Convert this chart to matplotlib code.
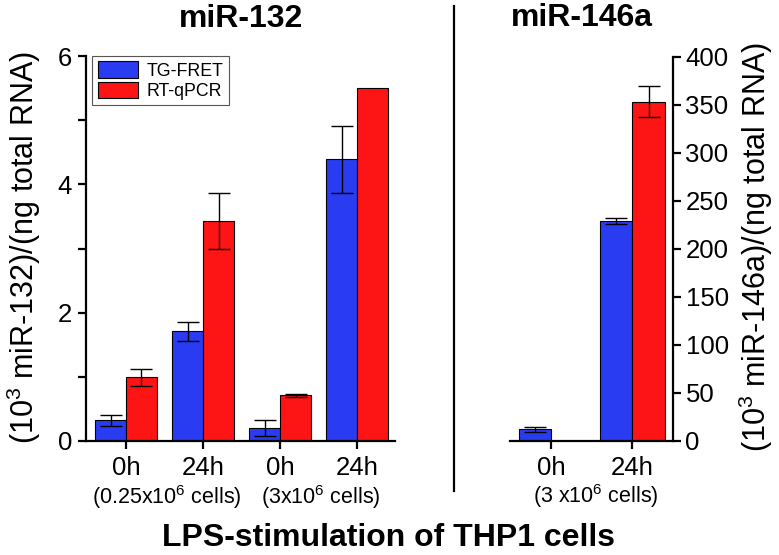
import numpy as np
import matplotlib
matplotlib.use('Agg')
from matplotlib import pyplot as plt
from matplotlib import transforms

plt.rcParams['font.family'] = ['Liberation Sans', 'DejaVu Sans']
plt.rcParams['mathtext.fontset'] = 'custom'
plt.rcParams['mathtext.rm'] = 'Liberation Sans'
plt.rcParams['mathtext.it'] = 'Liberation Sans:italic'
plt.rcParams['mathtext.bf'] = 'Liberation Sans:bold'

# miR-132 panel
groups_132 = ['0h', '24h', '0h', '24h']
fret_132 = [0.32, 1.71, 0.20, 4.39]
fret_132_err = [0.08, 0.15, 0.12, 0.52]
pcr_132 = [0.99, 3.43, 0.71, 5.50]
pcr_132_err = [0.13, 0.43, 0.02, np.nan]

# miR-146a panel
groups_146 = ['0h', '24h']
fret_146 = [12.0, 229.0]
fret_146_err = [2.5, 3.0]
pcr_146 = [0.0, 353.0]
pcr_146_err = [np.nan, 16.0]

cell_labels_132 = ['(0.25x10$^{6}$ cells)', '(3x10$^{6}$ cells)']
cell_labels_146 = ['(3 x10$^{6}$ cells)']

blue = '#2a3cf2'
red = '#fd1414'
width = 0.4


def draw_bars(ax, fret, fret_err, pcr, pcr_err):
    x = np.arange(len(fret))
    ax.bar(x - width / 2, fret, width, color=blue, edgecolor='black', linewidth=0.8, label='TG-FRET')
    ax.bar(x + width / 2, pcr, width, color=red, edgecolor='black', linewidth=0.8, label='RT-qPCR')
    ax.errorbar(x - width / 2, fret, yerr=fret_err, fmt='none', ecolor='black', elinewidth=1, capsize=8, capthick=1)
    ax.errorbar(x + width / 2, pcr, yerr=pcr_err, fmt='none', ecolor='black', elinewidth=1, capsize=8, capthick=1)
    return x


def style_axis(ax):
    for s in ax.spines.values():
        s.set_linewidth(1.6)
    ax.tick_params(which='both', width=1.6, length=6, labelsize=18.5, direction='out')


fig = plt.figure(figsize=(7.79, 5.55), dpi=100)

# left panel
ax1 = fig.add_axes([86 / 779, 1 - 441 / 555, 309 / 779, 385 / 555])
x1 = draw_bars(ax1, fret_132, fret_132_err, pcr_132, pcr_132_err)
ax1.set_xlim(-0.52, 3.49)
ax1.set_ylim(0, 6)
ax1.set_xticks(x1)
ax1.set_xticklabels(groups_132)
ax1.set_yticks([0, 2, 4, 6])
ax1.set_yticks([1, 3, 5], minor=True)
ax1.spines['top'].set_visible(False)
ax1.spines['right'].set_visible(False)
style_axis(ax1)
ax1.tick_params(axis='y', pad=4)
ax1.tick_params(axis='x', pad=5)
leg = ax1.legend(loc='upper left', bbox_to_anchor=(0.02, 1.0), borderaxespad=0, fontsize=12.8,
                 handlelength=2.25, handleheight=1.05, labelspacing=0.12, handletextpad=0.5,
                 borderpad=0.3, fancybox=False, framealpha=1)
leg.get_frame().set_edgecolor('#555555')
leg.get_frame().set_linewidth(0.8)

tr1 = transforms.blended_transform_factory(ax1.transData, ax1.transAxes)
ax1.text(0.53, -0.145, cell_labels_132[0], transform=tr1, ha='center', va='center', fontsize=15.5)
ax1.text(2.53, -0.145, cell_labels_132[1], transform=tr1, ha='center', va='center', fontsize=15.5)

# right panel
ax2 = fig.add_axes([510 / 779, 1 - 440.7 / 555, 163 / 779, 384 / 555])
x2 = draw_bars(ax2, fret_146, fret_146_err, pcr_146, pcr_146_err)
ax2.set_xlim(-0.506, 1.50)
ax2.set_ylim(0, 400)
ax2.set_xticks(x2)
ax2.set_xticklabels(groups_146)
ax2.set_yticks(np.arange(0, 401, 50))
ax2.yaxis.tick_right()
ax2.spines['top'].set_visible(False)
ax2.spines['left'].set_visible(False)
style_axis(ax2)
ax2.tick_params(axis='y', pad=3)
ax2.tick_params(axis='x', pad=5)

tr2 = transforms.blended_transform_factory(ax2.transData, ax2.transAxes)
ax2.text(0.55, -0.145, cell_labels_146[0], transform=tr2, ha='center', va='center', fontsize=15.5)

# divider
fig.add_artist(plt.Line2D([454 / 779, 454 / 779], [1 - 6 / 555, 1 - 491 / 555], color='black', linewidth=1.6))

# titles and labels
fig.text(241 / 779, 1 - 19 / 555, 'miR-132', ha='center', va='center', fontsize=23, fontweight='bold')
fig.text(582 / 779, 1 - 18 / 555, 'miR-146a', ha='center', va='center', fontsize=23, fontweight='bold')
fig.text(389 / 779, 1 - 538 / 555, 'LPS-stimulation of THP1 cells', ha='center', va='center',
         fontsize=23, fontweight='bold')
fig.text(24 / 779, 1 - 248 / 555, '(10$^{3}$ miR-132)/(ng total RNA)', rotation=90,
         ha='center', va='center', fontsize=22)
fig.text(756 / 779, 1 - 247 / 555, '(10$^{3}$ miR-146a)/(ng total RNA)', rotation=90,
         ha='center', va='center', fontsize=22)

fig.savefig('out.png', dpi=100)
